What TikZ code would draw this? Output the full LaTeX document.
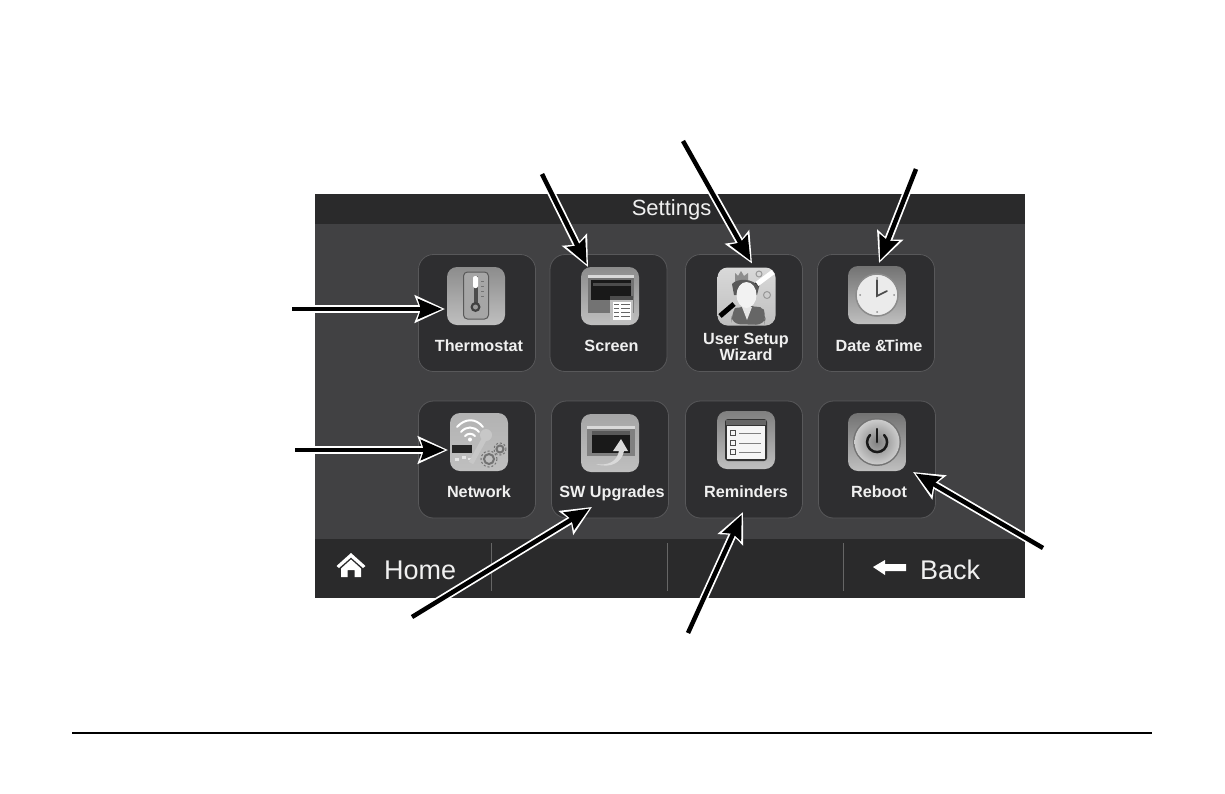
\documentclass[tikz,border=0pt]{standalone}
\usepackage{fontspec}
\setmainfont{Liberation Sans}
\usetikzlibrary{arrows.meta,calc}
\definecolor{barc}{HTML}{2A2A2B}
\definecolor{bodyc}{HTML}{414143}
\definecolor{tilec}{HTML}{2E2E30}
\definecolor{tileb}{HTML}{58585A}
\definecolor{txt}{HTML}{F0F0F0}
\tikzset{
  tile/.style={draw=tileb,line width=0.8pt,fill=tilec,rounded corners=15pt,minimum width=117pt,minimum height=117pt,inner sep=0pt,outer sep=0pt},
  icon/.style={rounded corners=10pt,minimum width=58pt,minimum height=58pt,inner sep=0pt,outer sep=0pt,top color=#1,bottom color=white!75!black,shading angle=0},
  icon/.default={white!55!black},
  lab/.style={text=txt,font=\fontsize{16.2}{16}\selectfont\bfseries,align=center,inner sep=0pt,anchor=base},
  barlab/.style={text=txt,inner sep=0pt,anchor=base west},
  sep/.style={draw=white!40!black,line width=0.8pt},
  arrowback/.style={draw=white,line width=8pt,-{Stealth[length=30pt,width=27pt,inset=5pt,fill=white]}},
  arrowfront/.style={draw=black,line width=4.5pt,shorten >=3pt,-{Stealth[length=24pt,width=20pt,inset=3pt,fill=black]}},
}
\newcommand{\callout}[2]{\draw[arrowback] (#1) -- (#2);\draw[arrowfront] (#1) -- (#2);}
\begin{document}
\begin{tikzpicture}[x=1pt,y=-1pt]
\useasboundingbox (0,0) rectangle (1225,793);
\fill[white] (0,0) rectangle (1225,793);
% screen
\fill[bodyc] (315,194) rectangle (1025,598);
\fill[barc] (315,194) rectangle (1025,224);
\fill[barc] (315,539) rectangle (1025,598);
\node[text=txt,font=\fontsize{22}{22}\selectfont,inner sep=0pt] (title) at (671.5,209.5) {Settings};
\draw[sep] (491,543) -- (491,591);
\draw[sep] (667.5,543) -- (667.5,591);
\draw[sep] (843.5,543) -- (843.5,591);
\node[barlab,font=\fontsize{27}{27}\selectfont] (home) at (384,579) {Home};
\node[barlab,font=\fontsize{27}{27}\selectfont] (back) at (920,579) {Back};
% home glyph
\fill[white] (351,553) -- (336.5,566) -- (339,568) -- (351,557.5) -- (363,568) -- (365.5,566) -- cycle;
\fill[white] (341,568.5) -- (351,559.5) -- (361,568.5) -- (361,577) -- (354.5,577) -- (354.5,570) -- (347.5,570) -- (347.5,577) -- (341,577) -- cycle;
% back glyph
\fill[white] (873,567) -- (885,560) -- (885,564) -- (906,564) -- (906,571) -- (885,571) -- (885,575) -- cycle;
% tiles
\node[tile] (t1) at (477,313) {};
\node[tile] (t2) at (608.5,313) {};
\node[tile] (t3) at (744,313) {};
\node[tile] (t4) at (876,313) {};
\node[tile] (t5) at (477,459.5) {};
\node[tile] (t6) at (610,459.5) {};
\node[tile] (t7) at (744,459.5) {};
\node[tile] (t8) at (877,459.5) {};
% labels
\node[lab] (l1) at (479,351.5) {Thermostat};
\node[lab] (l2) at (611.5,351.5) {Screen};
\node[lab] (l3) at (746,360.5) {User Setup\\Wizard};
\node[lab] (l4) at (879,351.5) {Date \&{\kern-2pt}Time};
\node[lab] (l5) at (479,497.5) {Network};
\node[lab] (l6) at (612,497.5) {SW Upgrades};
\node[lab] (l7) at (746,497.5) {Reminders};
\node[lab] (l8) at (879,497.5) {Reboot};
% icons
\node[icon] (i1) at (476,296) {};
\node[icon] (i2) at (610,296) {};
\node[icon=white!85!black] (i3) at (746.5,296.5) {};
\node[icon=white!45!black] (i4) at (877,295) {};
\node[icon=white!70!black] (i5) at (479,442) {};
\node[icon=white!65!black] (i6) at (610,443) {};
\node[icon=white!50!black] (i7) at (746,440) {};
\node[icon=white!45!black] (i8) at (877,442) {};
% thermostat
\begin{scope}[shift={(447,267)}]
\draw[black!65,line width=1pt,fill=black!35,rounded corners=4pt] (16.5,5) rectangle (41.5,52);
\fill[black!70] (26.5,9) rectangle (30.5,37);
\fill[white,rounded corners=2pt] (26,9) rectangle (31,21);
\foreach \yy in {14,19,24,29}{\draw[black!55,line width=.7pt] (34,\yy) -- (37,\yy);}
\fill[black!75] (28.5,40) circle (5);
\fill[black!40] (28.5,40) circle (2.5);
\end{scope}
% screen icon
\begin{scope}[shift={(581,267)}]
\fill[black!55] (7,8) rectangle (53,46);
\fill[white!85!black] (7,8) rectangle (53,11);
\fill[black!90] (10,13) rectangle (50,33);
\fill[black!70] (12,16) rectangle (50,19);
\fill[black!55] (10,33) rectangle (28,44);
\fill[white!75!black,rounded corners=2pt] (29,29) rectangle (52,56);
\fill[black!70] (29,29) rectangle (52,33);
\fill[white] (32,35) rectangle (50,53);
\foreach \yy in {37,41,45,49}{\draw[black!60,line width=1pt] (33,\yy) -- (38,\yy) (40,\yy) -- (49,\yy);}
\end{scope}
% wizard icon
\begin{scope}[shift={(717,267)}]
\fill[black!60,rounded corners=8pt] (15,57) -- (14,48) .. controls (18,41) and (24,40) .. (28,39) -- (36,39) .. controls (42,40) and (47,43) .. (49,50) -- (47,58) -- cycle;
\fill[white!90!black] (25,40) -- (30,53) -- (35,40) -- cycle;
\fill[black!45] (21,9) -- (24,4) -- (27,9) -- (31,6) -- (31,15) -- (18,15) -- (18,6) -- cycle;
\draw[black,line width=5pt] (3,49) -- (17,37);
\draw[black,line width=5pt] (29,26) -- (41,17);
\fill[black!65] (15,17) .. controls (20,11) and (36,11) .. (42,20) -- (40,28) -- (17,28) -- cycle;
\fill[white!95!black] (29.5,28) ellipse (10 and 13);
\draw[white,line width=5pt] (40,17) -- (56,5);
\draw[black!40,line width=1pt] (42,7) circle (3);
\draw[black!40,line width=1pt] (50,28) circle (3.5);
\end{scope}
% clock icon
\begin{scope}[shift={(848,266)}]
\fill[white!92!black,draw=black!45,line width=1.5pt] (29,29) circle (21);
\draw[black!70,line width=1.6pt,line cap=round] (29,14) -- (29,30) -- (39,25);
\foreach \a in {0,90,180,270}{\fill[black!45] (29,29) ++(\a:17) circle (1);}
\end{scope}
% network icon
\begin{scope}[shift={(450,413)}]
\draw[white,line width=2pt,line cap=round] (7,14) .. controls (15,5) and (26,5) .. (33,14);
\draw[white,line width=2pt,line cap=round] (11,19) .. controls (16,13) and (24,13) .. (29,19);
\draw[white,line width=2pt,line cap=round] (15,23) .. controls (18,20) and (22,20) .. (25,23);
\fill[white] (20,26.5) circle (2);
\fill[black!85] (2,32) rectangle (22,40);
\fill[white!90!black] (5,45) rectangle (9,48);
\fill[white!90!black] (12,43) rectangle (16,46);
\fill[white!90!black] (18,45) rectangle (21,47);
\draw[white!78!black,line width=5pt] (21,50) -- (37,21);
\fill[white!78!black] (36,22) circle (6);
\draw[black!55,line width=2pt,fill=white!75!black] (39,46) circle (5);
\draw[black!55,line width=1pt,dash pattern=on 2pt off 2pt] (39,46) circle (8);
\draw[black!55,line width=2pt,fill=white!75!black] (50,36) circle (3.5);
\draw[black!55,line width=1pt,dash pattern=on 2pt off 2pt] (50,36) circle (6);
\end{scope}
% upgrade icon
\begin{scope}[shift={(581,414)}]
\fill[black!50] (6,12) rectangle (54,42);
\fill[white!85!black] (6,12) rectangle (54,15);
\fill[black!90] (11,17) rectangle (49,39);
\fill[black!65] (11,17) rectangle (49,21);
\fill[white!85!black] (15,50) .. controls (28,52) and (36,47) .. (38,37) -- (32,37) -- (40,25) -- (47,37) -- (43,37) .. controls (41,48) and (30,55) .. (15,50) -- cycle;
\end{scope}
% reminders icon
\begin{scope}[shift={(717,411)}]
\fill[black!80,rounded corners=3pt] (8,8) rectangle (50,50);
\fill[black!60] (9,9) rectangle (49,14);
\fill[white!96!black] (10,15) rectangle (48,48);
\foreach \yy in {22,32,41}{
  \draw[black!70,line width=1pt] (13,\yy-3) rectangle (18,\yy+2);
  \draw[black!50,line width=1pt] (22,\yy) -- (44,\yy);}
\end{scope}
% reboot icon
\begin{scope}[shift={(848,413)}]
\fill[black!55] (29,29) circle (24);
\shade[inner color=black!50,outer color=white!80!black] (29,29) circle (22.5);
\draw[black!90,line width=2.5pt,line cap=round] (22,22) arc[start angle=225,end angle=-45,radius=10];
\draw[black!90,line width=2.5pt,line cap=round] (29,16) -- (29,29);
\end{scope}
% rule
\draw[black,line width=1.5pt] (72,733) -- (1152,733);
% arrow ends
\coordinate (s1) at (292,309);
\coordinate (s2) at (542,174);
\coordinate (s3) at (683,141);
\coordinate (s4) at (916,169);
\coordinate (s5) at (295,450);
\coordinate (s6) at (412,617);
\coordinate (s7) at (688,633);
\coordinate (s8) at (1043,548);
\coordinate (e1) at ($(i1.west)+(-2,13)$);
\coordinate (e2) at ($(i2.north)+(-22,0)$);
\coordinate (e3) at ($(i3.north)+(5.5,-4)$);
\coordinate (e4) at ($(i4.north)+(2,-3)$);
\coordinate (e5) at ($(i5.west)+(-2,8)$);
\coordinate (e6) at ($(t6.center)+(-18,47.5)$);
\coordinate (e7) at ($(t7.center)+(-1,52.5)$);
\coordinate (e8) at ($(i8.south east)+(7,1)$);
\callout{s1}{e1}
\callout{s2}{e2}
\callout{s3}{e3}
\callout{s4}{e4}
\callout{s5}{e5}
\callout{s6}{e6}
\callout{s7}{e7}
\callout{s8}{e8}
\end{tikzpicture}
\end{document}
